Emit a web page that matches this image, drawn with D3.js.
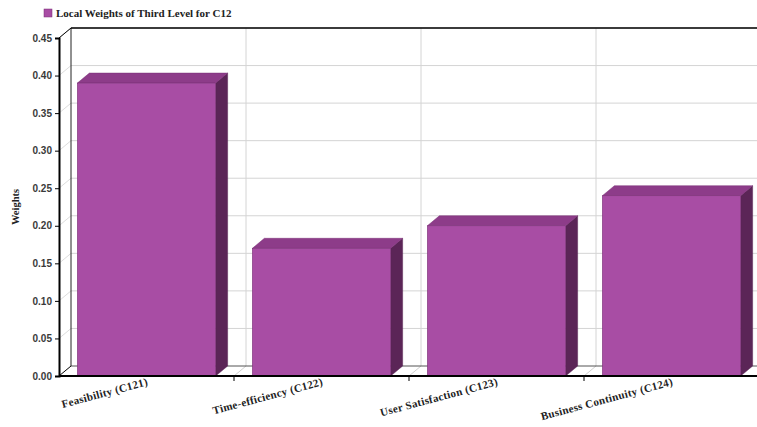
<!DOCTYPE html>
<html>
<head>
<meta charset="utf-8">
<script src="https://cdn.jsdelivr.net/npm/d3@7/dist/d3.min.js"></script>
<style>
  html, body { margin: 0; padding: 0; background: #fff; }
  svg { display: block; }
</style>
</head>
<body>
<svg id="chart" width="757" height="427"></svg>
<script>
// Local weights of the third-level criteria under C12
const categories = ["Feasibility (C121)", "Time-efficiency (C122)", "User Satisfaction (C123)", "Business Continuity (C124)"];
const weights = [0.39, 0.17, 0.20, 0.24];
const yTicks = [0, 0.05, 0.10, 0.15, 0.20, 0.25, 0.30, 0.35, 0.40, 0.45];
const seriesName = "Local Weights of Third Level for C12";
const axisTitle = "Weights";

const svg = d3.select("#chart");
const W = 757;

// 3D depth offset of the plot (back wall relative to front)
const DX = 12, DY = 10;

const plotLeft = 59, plotBottom = 376, plotTop = 38, plotRight = 759;

const y = d3.scaleLinear().domain([0, 0.45]).range([plotBottom, plotTop]);
const x = d3.scaleBand().domain(categories).range([plotLeft, plotRight])
  .paddingInner(0.21).paddingOuter(0.105);
const step = x.step();

const colFront = "#a84da4", colTop = "#8d3c89", colSide = "#5b2557", colEdge = "#7a2f76";
const serif = "'Liberation Serif', 'Times New Roman', serif";

// ---- back wall and floor ----
const wall = svg.append("g");
// horizontal gridlines on the back wall plus the diagonals on the left wall
yTicks.forEach(t => {
  if (t === 0) return;
  wall.append("line").attr("x1", plotLeft + DX).attr("x2", W)
    .attr("y1", y(t) - DY).attr("y2", y(t) - DY)
    .attr("stroke", "#d4d4d4").attr("stroke-width", 1);
  wall.append("line").attr("x1", plotLeft).attr("x2", plotLeft + DX)
    .attr("y1", y(t)).attr("y2", y(t) - DY)
    .attr("stroke", "#dcdcdc").attr("stroke-width", 1);
});
// vertical gridlines at category boundaries + floor diagonals
for (let i = 1; i < categories.length; i++) {
  const bx = plotLeft + step * i;
  wall.append("line").attr("x1", bx + DX).attr("x2", bx + DX)
    .attr("y1", plotTop - DY).attr("y2", plotBottom - DY)
    .attr("stroke", "#d4d4d4").attr("stroke-width", 1);
  wall.append("line").attr("x1", bx).attr("x2", bx + DX)
    .attr("y1", plotBottom).attr("y2", plotBottom - DY)
    .attr("stroke", "#d0d0d0").attr("stroke-width", 1);
}
// floor back edge
wall.append("line").attr("x1", plotLeft + DX).attr("x2", W)
  .attr("y1", plotBottom - DY).attr("y2", plotBottom - DY)
  .attr("stroke", "#555").attr("stroke-width", 1);
// left wall back edge
wall.append("line").attr("x1", plotLeft + DX).attr("x2", plotLeft + DX)
  .attr("y1", plotTop - DY).attr("y2", plotBottom - DY)
  .attr("stroke", "#222").attr("stroke-width", 1);
// top border
wall.append("line").attr("x1", plotLeft + DX).attr("x2", W)
  .attr("y1", plotTop - DY).attr("y2", plotTop - DY)
  .attr("stroke", "#000").attr("stroke-width", 1.5);
// left diagonals
wall.append("line").attr("x1", plotLeft).attr("x2", plotLeft + DX)
  .attr("y1", plotTop).attr("y2", plotTop - DY)
  .attr("stroke", "#000").attr("stroke-width", 1);
wall.append("line").attr("x1", plotLeft).attr("x2", plotLeft + DX)
  .attr("y1", plotBottom).attr("y2", plotBottom - DY)
  .attr("stroke", "#000").attr("stroke-width", 1);

// ---- bars ----
const bars = svg.append("g").selectAll("g").data(categories).join("g");
bars.each(function(c, i) {
  const g = d3.select(this);
  const x0 = x(c), x1 = x0 + x.bandwidth();
  const y0 = y(0), y1 = y(weights[i]);
  // right side face
  g.append("path")
    .attr("d", `M${x1},${y1} L${x1 + DX},${y1 - DY} L${x1 + DX},${y0 - DY} L${x1},${y0} Z`)
    .attr("fill", colSide).attr("stroke", colSide).attr("stroke-width", 0.5);
  // top face
  g.append("path")
    .attr("d", `M${x0},${y1} L${x0 + DX},${y1 - DY} L${x1 + DX},${y1 - DY} L${x1},${y1} Z`)
    .attr("fill", colTop).attr("stroke", colEdge).attr("stroke-width", 0.5);
  // front face
  g.append("rect")
    .attr("x", x0).attr("y", y1).attr("width", x1 - x0).attr("height", y0 - y1)
    .attr("fill", colFront).attr("stroke", colEdge).attr("stroke-width", 0.6);
});

// ---- value axis ----
const yAxis = svg.append("g").attr("transform", `translate(${plotLeft},0)`)
  .call(d3.axisLeft(y).tickValues(yTicks).tickFormat(d3.format(".2f")).tickSize(4).tickPadding(3));
yAxis.select(".domain").attr("stroke", "#000").attr("stroke-width", 2);
yAxis.selectAll(".tick line").attr("stroke", "#000").attr("stroke-width", 1);
yAxis.selectAll(".tick text")
  .attr("font-family", "'Liberation Sans', Arial, sans-serif")
  .attr("font-size", 10).attr("font-weight", "bold").attr("fill", "#3a3a3a");

svg.append("text")
  .attr("transform", `translate(19,${(plotTop + plotBottom) / 2}) rotate(-90)`)
  .attr("text-anchor", "middle")
  .attr("font-family", serif)
  .attr("font-size", 10.5).attr("font-weight", "bold").attr("fill", "#222")
  .text(axisTitle);

// ---- category axis ----
svg.append("line").attr("x1", plotLeft).attr("x2", W).attr("y1", plotBottom).attr("y2", plotBottom)
  .attr("stroke", "#000").attr("stroke-width", 2);
for (let i = 1; i < categories.length; i++) {
  const bx = plotLeft + step * i;
  svg.append("line").attr("x1", bx).attr("x2", bx).attr("y1", plotBottom).attr("y2", plotBottom + 5)
    .attr("stroke", "#000").attr("stroke-width", 1);
}
svg.append("g").selectAll("text").data(categories).join("text")
  .attr("transform", d => `translate(${x(d) + x.bandwidth() / 2 + 2},${plotBottom + 9}) rotate(-15)`)
  .attr("text-anchor", "end")
  .attr("font-family", serif)
  .attr("font-size", 11).attr("font-weight", "bold").attr("fill", "#222")
  .attr("letter-spacing", 0.3)
  .text(d => d);

// ---- legend ----
const legend = svg.append("g").attr("transform", "translate(44,9)");
legend.append("rect").attr("width", 8).attr("height", 8)
  .attr("fill", colFront).attr("stroke", colEdge).attr("stroke-width", 0.5);
legend.append("text").attr("x", 12).attr("y", 8)
  .attr("font-family", serif)
  .attr("font-size", 11).attr("font-weight", "bold").attr("fill", "#222")
  .text(seriesName);
</script>
</body>
</html>
